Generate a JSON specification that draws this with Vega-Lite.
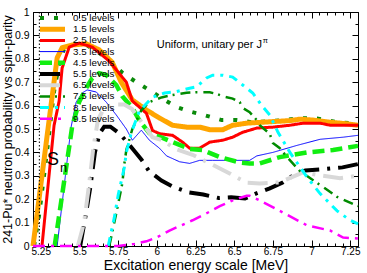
{
"$schema": "https://vega.github.io/schema/vega-lite/v6.json",
"width": 325, "height": 234,
"autosize": {"type": "none"},
"padding": {"left": 33, "top": 12, "right": 9, "bottom": 27},
"config": {"font": "Liberation Sans", "view": {"stroke": "#000", "strokeWidth": 1}, "axis": {"domain": false, "grid": false, "tickColor": "#000", "tickWidth": 1, "labelColor": "#000", "titleColor": "#000", "titleFontWeight": "normal", "labelFlush": false, "labelOverlap": false}},
"datasets": {
"curves": [
{"s":"0.5 levels","x":5.207,"y":0},{"s":"0.5 levels","x":5.239,"y":0.13},{"s":"0.5 levels","x":5.271,"y":0.30},{"s":"0.5 levels","x":5.304,"y":0.48},{"s":"0.5 levels","x":5.336,"y":0.66},{"s":"0.5 levels","x":5.369,"y":0.78},{"s":"0.5 levels","x":5.40,"y":0.84},{"s":"0.5 levels","x":5.45,"y":0.865},{"s":"0.5 levels","x":5.544,"y":0.86},{"s":"0.5 levels","x":5.628,"y":0.825},{"s":"0.5 levels","x":5.706,"y":0.786},{"s":"0.5 levels","x":5.777,"y":0.741},{"s":"0.5 levels","x":5.868,"y":0.70},{"s":"0.5 levels","x":5.952,"y":0.666},{"s":"0.5 levels","x":6.03,"y":0.632},{"s":"0.5 levels","x":6.128,"y":0.594},{"s":"0.5 levels","x":6.212,"y":0.575},{"s":"0.5 levels","x":6.309,"y":0.559},{"s":"0.5 levels","x":6.419,"y":0.538},{"s":"0.5 levels","x":6.516,"y":0.538},{"s":"0.5 levels","x":6.614,"y":0.529},{"s":"0.5 levels","x":6.711,"y":0.532},{"s":"0.5 levels","x":6.815,"y":0.538},{"s":"0.5 levels","x":6.925,"y":0.546},{"s":"0.5 levels","x":7.035,"y":0.545},{"s":"0.5 levels","x":7.165,"y":0.529},{"s":"0.5 levels","x":7.268,"y":0.525},{"s":"0.5 levels","x":7.30,"y":0.522},
{"s":"1.5 levels","x":5.20,"y":0},{"s":"1.5 levels","x":5.304,"y":0.537},{"s":"1.5 levels","x":5.356,"y":0.804},{"s":"1.5 levels","x":5.388,"y":0.847},{"s":"1.5 levels","x":5.453,"y":0.859},{"s":"1.5 levels","x":5.544,"y":0.864},{"s":"1.5 levels","x":5.628,"y":0.838},{"s":"1.5 levels","x":5.712,"y":0.785},{"s":"1.5 levels","x":5.77,"y":0.70},{"s":"1.5 levels","x":5.842,"y":0.624},{"s":"1.5 levels","x":5.933,"y":0.581},{"s":"1.5 levels","x":6.017,"y":0.547},{"s":"1.5 levels","x":6.102,"y":0.516},{"s":"1.5 levels","x":6.192,"y":0.508},{"s":"1.5 levels","x":6.277,"y":0.508},{"s":"1.5 levels","x":6.342,"y":0.497},{"s":"1.5 levels","x":6.426,"y":0.497},{"s":"1.5 levels","x":6.49,"y":0.516},{"s":"1.5 levels","x":6.581,"y":0.525},{"s":"1.5 levels","x":6.711,"y":0.53},{"s":"1.5 levels","x":6.86,"y":0.536},{"s":"1.5 levels","x":6.925,"y":0.542},{"s":"1.5 levels","x":7.01,"y":0.538},{"s":"1.5 levels","x":7.12,"y":0.529},{"s":"1.5 levels","x":7.23,"y":0.522},{"s":"1.5 levels","x":7.30,"y":0.516},
{"s":"2.5 levels","x":5.258,"y":0},{"s":"2.5 levels","x":5.336,"y":0.515},{"s":"2.5 levels","x":5.369,"y":0.62},{"s":"2.5 levels","x":5.388,"y":0.76},{"s":"2.5 levels","x":5.434,"y":0.85},{"s":"2.5 levels","x":5.498,"y":0.867},{"s":"2.5 levels","x":5.583,"y":0.85},{"s":"2.5 levels","x":5.693,"y":0.79},{"s":"2.5 levels","x":5.803,"y":0.70},{"s":"2.5 levels","x":5.842,"y":0.62},{"s":"2.5 levels","x":5.933,"y":0.567},{"s":"2.5 levels","x":5.972,"y":0.494},{"s":"2.5 levels","x":6.017,"y":0.48},{"s":"2.5 levels","x":6.102,"y":0.473},{"s":"2.5 levels","x":6.166,"y":0.444},{"s":"2.5 levels","x":6.212,"y":0.418},{"s":"2.5 levels","x":6.277,"y":0.418},{"s":"2.5 levels","x":6.342,"y":0.444},{"s":"2.5 levels","x":6.426,"y":0.452},{"s":"2.5 levels","x":6.49,"y":0.465},{"s":"2.5 levels","x":6.555,"y":0.486},{"s":"2.5 levels","x":6.646,"y":0.504},{"s":"2.5 levels","x":6.75,"y":0.508},{"s":"2.5 levels","x":6.86,"y":0.516},{"s":"2.5 levels","x":6.945,"y":0.525},{"s":"2.5 levels","x":7.055,"y":0.525},{"s":"2.5 levels","x":7.12,"y":0.516},{"s":"2.5 levels","x":7.30,"y":0.516},
{"s":"3.5 levels","x":5.356,"y":0},{"s":"3.5 levels","x":5.446,"y":0.508},{"s":"3.5 levels","x":5.479,"y":0.615},{"s":"3.5 levels","x":5.518,"y":0.654},{"s":"3.5 levels","x":5.55,"y":0.667},{"s":"3.5 levels","x":5.609,"y":0.658},{"s":"3.5 levels","x":5.673,"y":0.615},{"s":"3.5 levels","x":5.738,"y":0.56},{"s":"3.5 levels","x":5.803,"y":0.50},{"s":"3.5 levels","x":5.842,"y":0.452},{"s":"3.5 levels","x":5.9,"y":0.495},{"s":"3.5 levels","x":5.952,"y":0.452},{"s":"3.5 levels","x":6.017,"y":0.418},{"s":"3.5 levels","x":6.063,"y":0.385},{"s":"3.5 levels","x":6.147,"y":0.36},{"s":"3.5 levels","x":6.212,"y":0.353},{"s":"3.5 levels","x":6.277,"y":0.366},{"s":"3.5 levels","x":6.361,"y":0.366},{"s":"3.5 levels","x":6.6,"y":0.366},{"s":"3.5 levels","x":6.646,"y":0.385},{"s":"3.5 levels","x":6.75,"y":0.40},{"s":"3.5 levels","x":6.906,"y":0.43},{"s":"3.5 levels","x":7.055,"y":0.456},{"s":"3.5 levels","x":7.204,"y":0.465},{"s":"3.5 levels","x":7.30,"y":0.473},
{"s":"4.5 levels","x":5.34,"y":0},{"s":"4.5 levels","x":5.453,"y":0.51},{"s":"4.5 levels","x":5.498,"y":0.615},{"s":"4.5 levels","x":5.544,"y":0.675},{"s":"4.5 levels","x":5.583,"y":0.718},{"s":"4.5 levels","x":5.628,"y":0.739},{"s":"4.5 levels","x":5.673,"y":0.731},{"s":"4.5 levels","x":5.738,"y":0.688},{"s":"4.5 levels","x":5.777,"y":0.64},{"s":"4.5 levels","x":5.842,"y":0.59},{"s":"4.5 levels","x":5.887,"y":0.537},{"s":"4.5 levels","x":5.952,"y":0.482},{"s":"4.5 levels","x":6.037,"y":0.462},{"s":"4.5 levels","x":6.102,"y":0.444},{"s":"4.5 levels","x":6.212,"y":0.415},{"s":"4.5 levels","x":6.296,"y":0.41},{"s":"4.5 levels","x":6.407,"y":0.38},{"s":"4.5 levels","x":6.536,"y":0.357},{"s":"4.5 levels","x":6.6,"y":0.353},{"s":"4.5 levels","x":6.665,"y":0.353},{"s":"4.5 levels","x":6.795,"y":0.38},{"s":"4.5 levels","x":6.971,"y":0.40},{"s":"4.5 levels","x":7.139,"y":0.41},{"s":"4.5 levels","x":7.30,"y":0.428},
{"s":"5.5 levels","x":5.505,"y":0},{"s":"5.5 levels","x":5.54,"y":0.13},{"s":"5.5 levels","x":5.57,"y":0.25},{"s":"5.5 levels","x":5.60,"y":0.40},{"s":"5.5 levels","x":5.63,"y":0.48},{"s":"5.5 levels","x":5.66,"y":0.51},{"s":"5.5 levels","x":5.70,"y":0.51},{"s":"5.5 levels","x":5.76,"y":0.48},{"s":"5.5 levels","x":5.80,"y":0.45},{"s":"5.5 levels","x":5.85,"y":0.41},{"s":"5.5 levels","x":5.90,"y":0.37},{"s":"5.5 levels","x":5.95,"y":0.32},{"s":"5.5 levels","x":6.03,"y":0.28},{"s":"5.5 levels","x":6.10,"y":0.255},{"s":"5.5 levels","x":6.20,"y":0.23},{"s":"5.5 levels","x":6.30,"y":0.22},{"s":"5.5 levels","x":6.40,"y":0.205},{"s":"5.5 levels","x":6.48,"y":0.208},{"s":"5.5 levels","x":6.57,"y":0.203},{"s":"5.5 levels","x":6.64,"y":0.224},{"s":"5.5 levels","x":6.73,"y":0.246},{"s":"5.5 levels","x":6.81,"y":0.27},{"s":"5.5 levels","x":6.90,"y":0.31},{"s":"5.5 levels","x":6.96,"y":0.323},{"s":"5.5 levels","x":7.07,"y":0.328},{"s":"5.5 levels","x":7.20,"y":0.336},{"s":"5.5 levels","x":7.30,"y":0.35},
{"s":"6.5 levels","x":5.49,"y":0},{"s":"6.5 levels","x":5.53,"y":0.10},{"s":"6.5 levels","x":5.56,"y":0.25},{"s":"6.5 levels","x":5.59,"y":0.42},{"s":"6.5 levels","x":5.62,"y":0.54},{"s":"6.5 levels","x":5.66,"y":0.59},{"s":"6.5 levels","x":5.72,"y":0.605},{"s":"6.5 levels","x":5.79,"y":0.605},{"s":"6.5 levels","x":5.84,"y":0.585},{"s":"6.5 levels","x":5.89,"y":0.54},{"s":"6.5 levels","x":5.972,"y":0.465},{"s":"6.5 levels","x":6.037,"y":0.452},{"s":"6.5 levels","x":6.12,"y":0.415},{"s":"6.5 levels","x":6.231,"y":0.39},{"s":"6.5 levels","x":6.342,"y":0.353},{"s":"6.5 levels","x":6.471,"y":0.31},{"s":"6.5 levels","x":6.581,"y":0.27},{"s":"6.5 levels","x":6.665,"y":0.267},{"s":"6.5 levels","x":6.795,"y":0.272},{"s":"6.5 levels","x":6.945,"y":0.315},{"s":"6.5 levels","x":7.075,"y":0.30},{"s":"6.5 levels","x":7.184,"y":0.29},{"s":"6.5 levels","x":7.30,"y":0.30},
{"s":"7.5 levels","x":5.693,"y":0},{"s":"7.5 levels","x":5.738,"y":0.14},{"s":"7.5 levels","x":5.777,"y":0.267},{"s":"7.5 levels","x":5.79,"y":0.35},{"s":"7.5 levels","x":5.803,"y":0.41},{"s":"7.5 levels","x":5.842,"y":0.50},{"s":"7.5 levels","x":5.90,"y":0.58},{"s":"7.5 levels","x":5.952,"y":0.615},{"s":"7.5 levels","x":6.03,"y":0.635},{"s":"7.5 levels","x":6.10,"y":0.645},{"s":"7.5 levels","x":6.192,"y":0.655},{"s":"7.5 levels","x":6.25,"y":0.657},{"s":"7.5 levels","x":6.342,"y":0.657},{"s":"7.5 levels","x":6.387,"y":0.65},{"s":"7.5 levels","x":6.426,"y":0.64},{"s":"7.5 levels","x":6.49,"y":0.63},{"s":"7.5 levels","x":6.536,"y":0.615},{"s":"7.5 levels","x":6.555,"y":0.59},{"s":"7.5 levels","x":6.60,"y":0.572},{"s":"7.5 levels","x":6.646,"y":0.538},{"s":"7.5 levels","x":6.665,"y":0.516},{"s":"7.5 levels","x":6.73,"y":0.48},{"s":"7.5 levels","x":6.75,"y":0.44},{"s":"7.5 levels","x":6.795,"y":0.418},{"s":"7.5 levels","x":6.841,"y":0.38},{"s":"7.5 levels","x":6.925,"y":0.32},{"s":"7.5 levels","x":7.035,"y":0.27},{"s":"7.5 levels","x":7.165,"y":0.21},{"s":"7.5 levels","x":7.30,"y":0.17},
{"s":"8.5 levels","x":5.686,"y":0},{"s":"8.5 levels","x":5.725,"y":0.12},{"s":"8.5 levels","x":5.751,"y":0.22},{"s":"8.5 levels","x":5.79,"y":0.335},{"s":"8.5 levels","x":5.803,"y":0.40},{"s":"8.5 levels","x":5.836,"y":0.486},{"s":"8.5 levels","x":5.887,"y":0.576},{"s":"8.5 levels","x":5.972,"y":0.636},{"s":"8.5 levels","x":6.05,"y":0.654},{"s":"8.5 levels","x":6.128,"y":0.66},{"s":"8.5 levels","x":6.212,"y":0.674},{"s":"8.5 levels","x":6.257,"y":0.68},{"s":"8.5 levels","x":6.322,"y":0.718},{"s":"8.5 levels","x":6.361,"y":0.73},{"s":"8.5 levels","x":6.426,"y":0.73},{"s":"8.5 levels","x":6.49,"y":0.722},{"s":"8.5 levels","x":6.555,"y":0.688},{"s":"8.5 levels","x":6.62,"y":0.654},{"s":"8.5 levels","x":6.678,"y":0.60},{"s":"8.5 levels","x":6.73,"y":0.56},{"s":"8.5 levels","x":6.783,"y":0.486},{"s":"8.5 levels","x":6.841,"y":0.422},{"s":"8.5 levels","x":6.86,"y":0.40},{"s":"8.5 levels","x":6.971,"y":0.294},{"s":"8.5 levels","x":7.055,"y":0.224},{"s":"8.5 levels","x":7.165,"y":0.15},{"s":"8.5 levels","x":7.249,"y":0.11},{"s":"8.5 levels","x":7.30,"y":0.095},
{"s":"9.5 levels","x":5.20,"y":0},{"s":"9.5 levels","x":5.75,"y":0},{"s":"9.5 levels","x":5.85,"y":0.008},{"s":"9.5 levels","x":5.933,"y":0.02},{"s":"9.5 levels","x":5.998,"y":0.036},{"s":"9.5 levels","x":6.082,"y":0.066},{"s":"9.5 levels","x":6.147,"y":0.085},{"s":"9.5 levels","x":6.231,"y":0.11},{"s":"9.5 levels","x":6.322,"y":0.14},{"s":"9.5 levels","x":6.407,"y":0.17},{"s":"9.5 levels","x":6.49,"y":0.195},{"s":"9.5 levels","x":6.581,"y":0.215},{"s":"9.5 levels","x":6.60,"y":0.215},{"s":"9.5 levels","x":6.665,"y":0.195},{"s":"9.5 levels","x":6.795,"y":0.15},{"s":"9.5 levels","x":6.971,"y":0.088},{"s":"9.5 levels","x":7.12,"y":0.066},{"s":"9.5 levels","x":7.204,"y":0.036},{"s":"9.5 levels","x":7.30,"y":0.032}
]
},
"resolve": {"axis": {"x": "independent", "y": "independent"}},
"layer": [
{
"data": {"name": "curves"},
"mark": {"type": "line", "clip": false, "strokeCap": "butt"},
"encoding": {
"x": {"field": "x", "type": "quantitative", "scale": {"domain": [5.2, 7.3], "nice": false, "zero": false},
 "axis": {"orient": "bottom", "values": [5.25,5.5,5.75,6,6.25,6.5,6.75,7,7.25], "tickSize": -6, "labelExpr": "format(datum.value, '.2~f')", "labelFontSize": 10, "labelPadding": 6, "title": "Excitation energy scale [MeV]", "titleFontSize": 14, "titlePadding": 2}},
"y": {"field": "y", "type": "quantitative", "scale": {"domain": [0, 1], "nice": false},
 "axis": {"orient": "left", "values": [0,0.1,0.2,0.3,0.4,0.5,0.6,0.7,0.8,0.9,1], "tickSize": -6, "labelExpr": "format(datum.value, '.1~f')", "labelFontSize": 10.5, "labelPadding": 10, "title": "241-Pu* neutron probability vs spin-parity", "titleFontSize": 12.5, "titlePadding": 0}},
"color": {"field": "s", "type": "nominal",
 "scale": {"domain": ["0.5 levels","1.5 levels","2.5 levels","3.5 levels","4.5 levels","5.5 levels","6.5 levels","7.5 levels","8.5 levels","9.5 levels"],
  "range": ["#0a8a0a","#FFA500","#FF0000","#0000FF","#11EE11","#000000","#D8D8D8","#008B00","#00FFFF","#FF00FF"]},
 "legend": {"title": null, "orient": "none", "legendX": 2, "legendY": 1, "symbolType": "M0,0H10", "symbolSize": 25, "clipHeight": 10, "labelFontSize": 9.8, "labelOffset": 28, "rowPadding": 1.2, "padding": 0, "labelColor": "#000", "symbolOpacity": 1}},
"strokeDash": {"field": "s", "type": "nominal",
 "scale": {"domain": ["0.5 levels","1.5 levels","2.5 levels","3.5 levels","4.5 levels","5.5 levels","6.5 levels","7.5 levels","8.5 levels","9.5 levels"],
  "range": [[4,10],[1,0],[1,0],[1,0],[12,6],[20,8,3,8],[20,8,3,8],[10,5,2,6],[9,6,3,6],[12,6,3,6]]},
 "legend": {"title": null}},
"strokeWidth": {"field": "s", "type": "nominal",
 "scale": {"type": "ordinal", "domain": ["0.5 levels","1.5 levels","2.5 levels","3.5 levels","4.5 levels","5.5 levels","6.5 levels","7.5 levels","8.5 levels","9.5 levels"],
  "range": [4,5,3,1,4.5,4,4,2.5,3,2.5]},
 "legend": {"title": null}}
}
},
{
"data": {"values": [{"x": 5.241}]},
"mark": {"type": "rule", "strokeDash": [1.5, 2], "color": "#000", "strokeWidth": 1},
"encoding": {"x": {"field": "x", "type": "quantitative", "scale": {"domain": [5.2, 7.3], "nice": false, "zero": false}, "axis": null}}
},
{
"data": {"values": [{"x": 5.291, "y": 0.345, "t": "S"}]},
"mark": {"type": "text", "fontSize": 18, "align": "left", "baseline": "alphabetic", "color": "#000"},
"encoding": {
"x": {"field": "x", "type": "quantitative", "scale": {"domain": [5.2, 7.3], "nice": false, "zero": false},
 "axis": {"orient": "bottom", "values": [5.2,5.25,5.3,5.35,5.4,5.45,5.5,5.55,5.6,5.65,5.7,5.75,5.8,5.85,5.9,5.95,6,6.05,6.1,6.15,6.2,6.25,6.3,6.35,6.4,6.45,6.5,6.55,6.6,6.65,6.7,6.75,6.8,6.85,6.9,6.95,7,7.05,7.1,7.15,7.2,7.25,7.3], "tickSize": -3, "labels": false, "title": null}},
"y": {"field": "y", "type": "quantitative", "scale": {"domain": [0, 1], "nice": false},
 "axis": {"orient": "left", "values": [0,0.05,0.1,0.15,0.2,0.25,0.3,0.35,0.4,0.45,0.5,0.55,0.6,0.65,0.7,0.75,0.8,0.85,0.9,0.95,1], "tickSize": -3, "labels": false, "title": null}},
"text": {"field": "t"}
}
},
{
"data": {"values": [{"x": 5.375, "y": 0.315, "t": "n"}]},
"mark": {"type": "text", "fontSize": 13, "align": "left", "baseline": "alphabetic", "color": "#000"},
"encoding": {
"x": {"field": "x", "type": "quantitative", "scale": {"domain": [5.2, 7.3], "nice": false, "zero": false},
 "axis": {"orient": "top", "values": [5.2,5.25,5.3,5.35,5.4,5.45,5.5,5.55,5.6,5.65,5.7,5.75,5.8,5.85,5.9,5.95,6,6.05,6.1,6.15,6.2,6.25,6.3,6.35,6.4,6.45,6.5,6.55,6.6,6.65,6.7,6.75,6.8,6.85,6.9,6.95,7,7.05,7.1,7.15,7.2,7.25,7.3], "tickSize": -3, "labels": false, "title": null}},
"y": {"field": "y", "type": "quantitative", "scale": {"domain": [0, 1], "nice": false},
 "axis": {"orient": "right", "values": [0,0.05,0.1,0.15,0.2,0.25,0.3,0.35,0.4,0.45,0.5,0.55,0.6,0.65,0.7,0.75,0.8,0.85,0.9,0.95,1], "tickSize": -3, "labels": false, "title": null}},
"text": {"field": "t"}
}
},
{
"data": {"values": [{"x": 6.0, "y": 0.845, "t": "Uniform, unitary per J"}]},
"mark": {"type": "text", "fontSize": 11, "align": "left", "baseline": "alphabetic", "color": "#000"},
"encoding": {
"x": {"field": "x", "type": "quantitative", "scale": {"domain": [5.2, 7.3], "nice": false, "zero": false},
 "axis": {"orient": "top", "values": [5.25,5.5,5.75,6,6.25,6.5,6.75,7,7.25], "tickSize": -6, "labels": false, "title": null}},
"y": {"field": "y", "type": "quantitative", "scale": {"domain": [0, 1], "nice": false},
 "axis": {"orient": "right", "values": [0,0.1,0.2,0.3,0.4,0.5,0.6,0.7,0.8,0.9,1], "tickSize": -6, "labels": false, "title": null}},
"text": {"field": "t"}
}
},
{
"data": {"values": [{"x": 6.685, "y": 0.868, "t": "π"}]},
"mark": {"type": "text", "fontSize": 7.5, "align": "left", "baseline": "alphabetic", "color": "#000"},
"encoding": {
"x": {"field": "x", "type": "quantitative", "scale": {"domain": [5.2, 7.3], "nice": false, "zero": false}, "axis": null},
"y": {"field": "y", "type": "quantitative", "scale": {"domain": [0, 1], "nice": false}, "axis": null},
"text": {"field": "t"}
}
}
]
}
